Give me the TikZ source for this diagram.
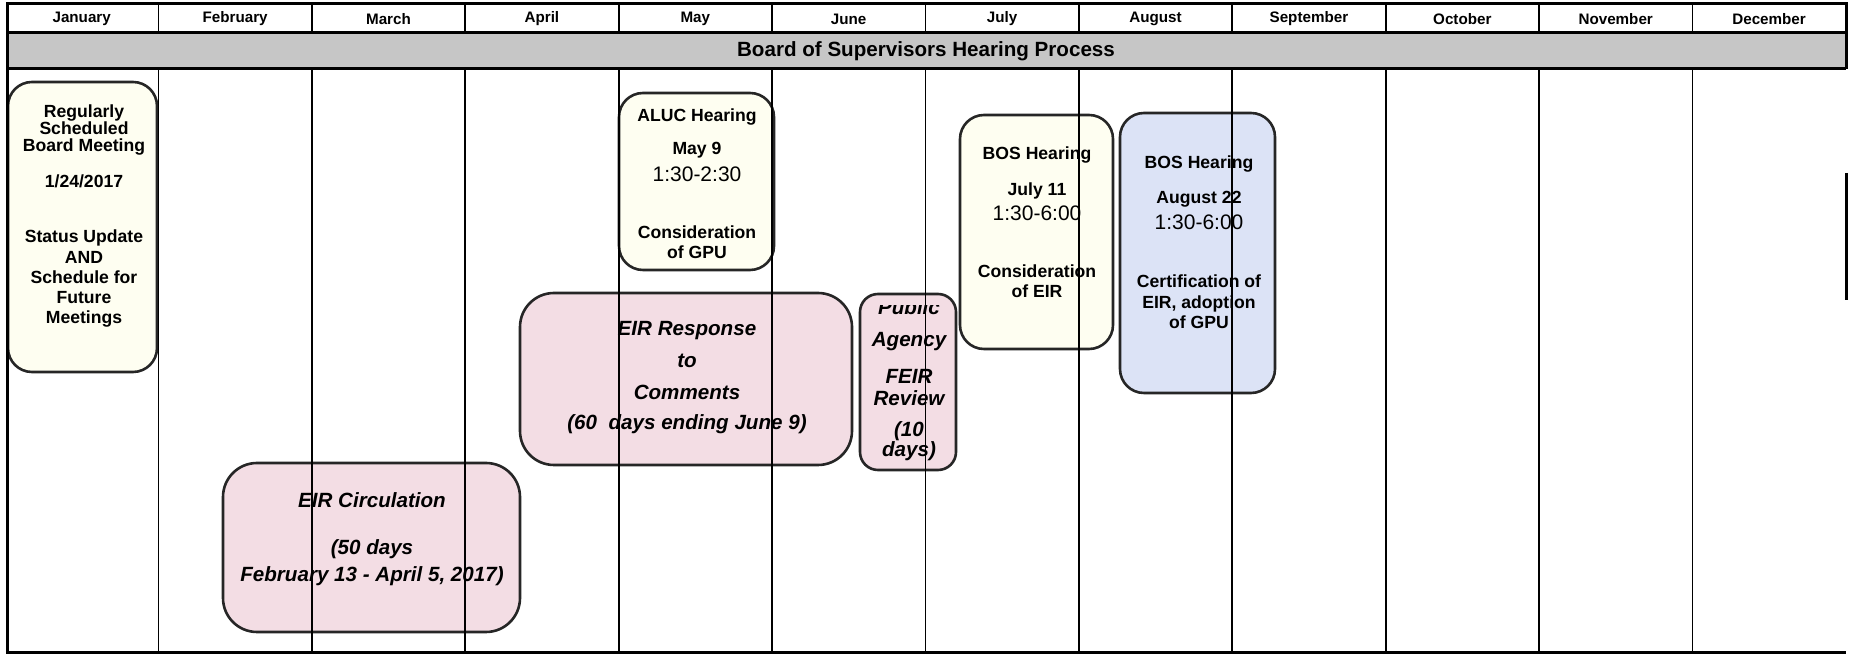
\documentclass[tikz,border=0pt]{standalone}
\usepackage{fontspec}
\setmainfont{Liberation Sans}
\usepackage{tikz}
\definecolor{creamfill}{HTML}{FEFEF1}
\definecolor{pinkfill}{HTML}{F3DDE4}
\definecolor{bluefill}{HTML}{DCE3F6}
\definecolor{bandgrey}{HTML}{C6C6C6}
\def\timefont{\normalfont\fontsize{10.5}{10}\selectfont}
\tikzset{
  frame/.style={line width=1.5pt, black},
  grid/.style={line width=0.9pt, black},
  evbox/.style={line width=1.3pt, draw=black!85, rounded corners=12pt},
  monthlbl/.style={font=\bfseries\fontsize{7.6}{8}\selectfont, inner sep=0pt},
  titlelbl/.style={font=\bfseries\fontsize{10.3}{11}\selectfont, inner sep=0pt},
  evtext/.style={align=center, inner sep=0pt, anchor=north, font=\bfseries\fontsize{8.8}{8.5}\selectfont},
  evitext/.style={align=center, inner sep=0pt, anchor=north, font=\bfseries\itshape\fontsize{10.3}{10}\selectfont}
}
\begin{document}
\begin{tikzpicture}[x=0.5pt, y=-0.5pt]
			%%%%% START %%%%%
			\useasboundingbox (0,0) rectangle (1852,656);
			\fill[white] (0,0) rectangle (1852,656);
			
			% event boxes
			\draw[evbox, fill=creamfill] (8,82) rectangle (157,372);
			\draw[evbox, fill=creamfill] (619,93) rectangle (774,270);
			\draw[evbox, fill=creamfill] (960,115) rectangle (1113,349);
			\draw[evbox, fill=bluefill] (1120,113) rectangle (1275,393);
			\draw[evbox, fill=pinkfill, rounded corners=17pt] (520,293) rectangle (852,465);
			\draw[evbox, fill=pinkfill, rounded corners=9pt] (860,294) rectangle (956,470);
			\draw[evbox, fill=pinkfill, rounded corners=17pt] (223,463) rectangle (520,632);
			
			% table
			\fill[bandgrey] (7,33) rectangle (1846,69);
			\draw[frame] (7,4) rectangle (1846,33);
			\draw[frame] (1846,33) -- (1846,69);
			\draw[frame] (7,33) -- (7,653) -- (1846,653);
			\draw[frame] (7,69) -- (1846,69);
			\draw[frame] (1846,173) -- (1846,300);
			\foreach \k in {1,...,11} {
				\draw[grid] ({5+153.4*\k},4) -- ({5+153.4*\k},33);
				\draw[grid] ({5+153.4*\k},69) -- ({5+153.4*\k},653);
			}
			\foreach \m [count=\k] in {January,February,March,April,May,June,July,August,September,October,November,December}
				\node[monthlbl] (month\k) at ({5+153.4*\k-76.7},19) {\m};
			\node[titlelbl] (title) at (926,51) {Board of Supervisors Hearing Process};
			
			% event texts
			\node[evtext] (meet) at (84,104.5) {Regularly\\ Scheduled\\ Board Meeting\\[9.5pt] 1/24/2017\\[19pt] Status Update\\[2pt] AND\\[1.5pt] Schedule for\\[1.5pt] Future\\[1.5pt] Meetings};
			\node[evtext] (aluc) at (697,108.7) {ALUC Hearing\\[8pt] May 9\\[3pt] {\timefont 1:30-2:30}\\[20pt] Consideration\\[1.5pt] of GPU};
			\node[evtext] (bosjul) at (1037,146.7) {BOS Hearing\\[9.5pt] July 11\\[2pt] {\timefont 1:30-6:00}\\[20pt] Consideration\\[1.5pt] of EIR};
			\node[evtext] (bosaug) at (1199,155.7) {BOS Hearing\\[9pt] August 22\\[2.5pt] {\timefont 1:30-6:00}\\[20.5pt] Certification of\\[2pt] EIR, adoption\\[1.5pt] of GPU};
			\node[evitext] (resp) at (687,320.6) {EIR Response\\[6pt] to\\[6pt] Comments\\[5pt] (60~~days ending June 9)};
			\begin{scope}
				\clip (860,306) rectangle (956,470);
				\node[evitext] (pubrev) at (909,299.3) {Public\\[5.7pt] Agency\\[8.5pt] FEIR\\[1pt] Review\\[5.5pt] (10\\ days)};
			\end{scope}
			\node[evitext] (circ) at (372,492.6) {EIR Circulation\\[13.5pt] (50 days\\[3.5pt] February 13 - April 5, 2017)};
			
			%%%%% END %%%%%
		\end{tikzpicture}
\end{document}
